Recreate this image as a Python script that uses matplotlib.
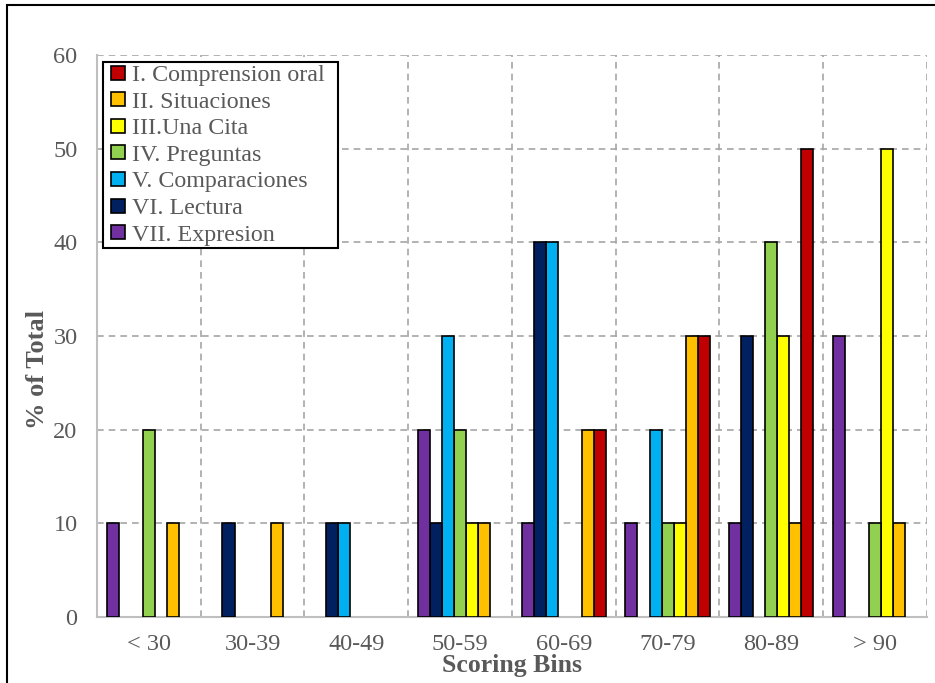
import matplotlib
matplotlib.use("Agg")
import matplotlib.pyplot as plt
from matplotlib.patches import Rectangle
from matplotlib.lines import Line2D
import numpy as np

plt.rcParams['font.family'] = ['Liberation Serif', 'DejaVu Serif']

bins = ["< 30", "30-39", "40-49", "50-59", "60-69", "70-79", "80-89", "> 90"]

series_names = [
    "I. Comprension oral",
    "II. Situaciones",
    "III.Una Cita",
    "IV. Preguntas",
    "V. Comparaciones",
    "VI. Lectura",
    "VII. Expresion",
]
series_colors = ["#C00000", "#FFC000", "#FFFF00", "#92D050", "#00B0F0", "#002060", "#7030A0"]

comprension_oral = [0, 0, 0, 0, 20, 30, 50, 0]
situaciones      = [10, 10, 0, 10, 20, 30, 10, 10]
una_cita         = [0, 0, 0, 10, 0, 10, 30, 50]
preguntas        = [20, 0, 0, 20, 0, 10, 40, 10]
comparaciones    = [0, 0, 10, 30, 40, 20, 0, 0]
lectura          = [0, 10, 10, 10, 40, 0, 30, 0]
expresion        = [10, 0, 0, 20, 10, 10, 10, 30]

series_values = [comprension_oral, situaciones, una_cita, preguntas,
                 comparaciones, lectura, expresion]

fig = plt.figure(figsize=(9.35, 6.83), dpi=100)
ax = fig.add_axes([0.1037, 0.0966, 0.8877, 0.8229])

x = np.arange(len(bins))
w = 0.116
# bars are drawn right-to-left in legend order: VII is leftmost, I is rightmost
for k in range(len(series_names)):
    slot = len(series_names) - 1 - k
    offset = (slot - 3) * w
    vals = np.array(series_values[k], dtype=float)
    mask = vals > 0
    ax.bar(x[mask] + offset, vals[mask], width=w, color=series_colors[k],
           edgecolor="black", linewidth=1.2, zorder=3)

ax.set_xlim(-0.5, len(bins) - 0.5)
ax.set_ylim(0, 60)
ax.set_yticks(np.arange(0, 61, 10))
ax.set_xticks(x)
ax.set_xticklabels(bins)
ax.set_xticks(np.arange(-0.5, len(bins), 1.0), minor=True)

grid_kw = dict(color="#A6A6A6", linestyle=(0, (4, 3)), linewidth=1.2)
ax.grid(True, axis="y", which="major", **grid_kw)
ax.grid(True, axis="x", which="minor", **grid_kw)
ax.grid(False, axis="x", which="major")
ax.set_axisbelow(True)

for side in ["top", "right"]:
    ax.spines[side].set_visible(False)
for side in ["left", "bottom"]:
    ax.spines[side].set_color("#BFBFBF")
    ax.spines[side].set_linewidth(1.5)

ax.tick_params(axis="both", which="both", length=0, labelsize=17.5, labelcolor="#595959")
ax.tick_params(axis="y", pad=14)
ax.tick_params(axis="x", pad=12)

ax.set_xlabel("Scoring Bins", fontsize=18.5, fontweight="bold", color="#595959", va="center")
ax.xaxis.set_label_coords(0.5, -0.0854)
ax.set_ylabel("% of Total", fontsize=19, fontweight="bold", color="#595959", va="center")
ax.yaxis.set_label_coords(-0.072, 0.44)

# square legend keys
handles = [Line2D([], [], linestyle="none", marker="s", markersize=9.4,
                  markerfacecolor=c, markeredgecolor="black", markeredgewidth=1.2)
           for c in series_colors]

leg = ax.legend(handles=handles, labels=series_names, loc="upper left",
                bbox_to_anchor=(0.0072, 0.9875, 0.2831, 0.0), mode="expand",
                fontsize=17.3, frameon=True,
                fancybox=False, edgecolor="black", framealpha=1,
                handlelength=1.05, handletextpad=0.05,
                labelspacing=0.2, borderpad=0.09, borderaxespad=0.0)
leg.get_frame().set_linewidth(1.5)
for t in leg.get_texts():
    t.set_color("#595959")

# outer frame around the chart
fig.patches.append(Rectangle((7 / 935, -0.05), 1.2, (683 - 5) / 683 + 0.05,
                             transform=fig.transFigure, fill=False,
                             edgecolor="black", linewidth=1.5, zorder=10))

fig.savefig("out.png", dpi=100)
